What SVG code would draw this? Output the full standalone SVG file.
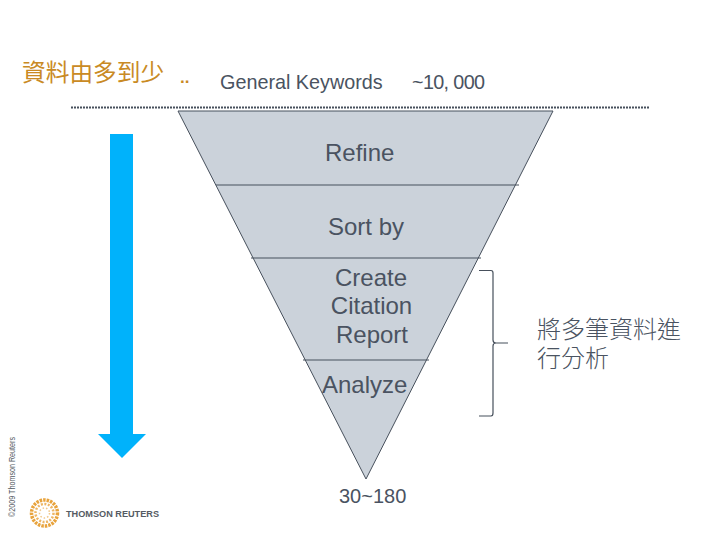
<svg xmlns="http://www.w3.org/2000/svg" width="720" height="540" viewBox="0 0 720 540">
<style>
text{font-family:"Liberation Sans",Arial,"Noto Sans CJK TC",sans-serif;fill:#4a5361;font-size:24px}
.cjk{font-family:"Noto Sans CJK TC","Liberation Sans",sans-serif}
.div{stroke:#47505c;stroke-width:1.2;fill:none}
.ring{fill:none;stroke:#e8a33c}
</style>
<rect width="720" height="540" fill="#fff"/>
<g id="title">
<text class="cjk" x="22" y="81" style="font-size:23.700px;fill:#c98a24;font-weight:400">資料由多到少</text>
<text x="180" y="83" style="font-size:17px;font-weight:bold;fill:#c98a24">..</text>
</g>
<g id="keywords"><text x="220" y="89" style="font-size:19.800px">General Keywords</text></g>
<g id="count-top"><text x="412" y="89" style="font-size:19.800px" textLength="73" lengthAdjust="spacing">~10, 000</text></g>
<g id="funnel">
<polygon points="178,111 553,111 366,479" fill="#cbd2da" stroke="#47505c" stroke-width="1"/>
</g>
<g id="connectors">
<line x1="71" y1="107.500" x2="650" y2="107.500" stroke="#47505c" stroke-width="2" stroke-dasharray="2 1"/>
<path class="div" d="M216 185H519M251 258H481M303 360H429"/>
<path d="M479 270.500H491Q493 270.500 493 273V340Q493 343 496 343H508M496 343Q493 343 493 346V413Q493 416 491 416H479" fill="none" stroke="#47505c" stroke-width="1.200"/>
</g>
<g id="refine"><text x="325" y="160.500">Refine</text></g>
<g id="sort"><text x="328" y="234.500">Sort by</text></g>
<g id="report" text-anchor="middle">
<text x="371" y="285.500">Create</text>
<text x="371.500" y="314">Citation</text>
<text x="372" y="343">Report</text>
</g>
<g id="analyze"><text x="322" y="392.500">Analyze</text></g>
<g id="count-bottom"><text x="339" y="503" style="font-size:20px">30~180</text></g>
<g id="note">
<text class="cjk" x="537" y="338" style="font-size:24px;font-weight:300">將多筆資料進</text>
<text class="cjk" x="537" y="367" style="font-size:24px;font-weight:300">行分析</text>
</g>
<g id="arrow"><polygon points="110,134 133,134 133,434 146,434 122,458 98,434 110,434" fill="#00b2fb"/></g>
<g id="copyright"><text transform="translate(14.500,517) rotate(-90)" style="font-size:8.500px;fill:#555b63" textLength="80" lengthAdjust="spacingAndGlyphs">©2009 Thomson Reuters</text></g>
<g id="logo">
<circle class="ring" cx="44.500" cy="513" r="13" stroke-width="3.500" stroke-dasharray="2.500 1"/>
<circle class="ring" cx="44.500" cy="513" r="9" stroke-width="2.500" stroke-dasharray="2 1.500" opacity=".8"/>
<circle class="ring" cx="44.500" cy="513" r="5" stroke-width="1.500" stroke-dasharray="1.500 2" opacity=".6"/>
<text x="66" y="516.500" style="font-size:9.500px;font-weight:bold;fill:#555b63" textLength="93" lengthAdjust="spacingAndGlyphs">THOMSON REUTERS</text>
</g>
</svg>
